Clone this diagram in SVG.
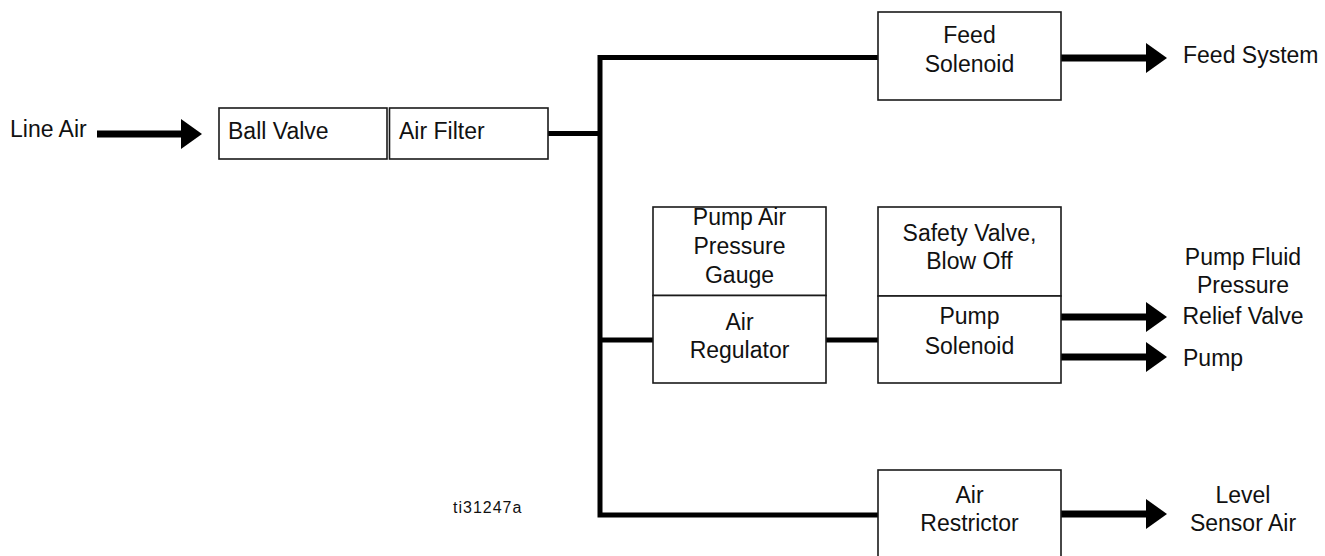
<svg xmlns="http://www.w3.org/2000/svg" width="1325" height="556" viewBox="0 0 1325 556">
<style>
.box{fill:#fff;stroke:#1a1a1a;stroke-width:1.6}
.t{font-family:"Liberation Sans",Arial,Helvetica,sans-serif;font-size:23px;fill:#111}
.c{text-anchor:middle}
.pipe{fill:none;stroke:#000;stroke-width:5;stroke-linejoin:miter;stroke-linecap:butt}
.shaft{fill:none;stroke:#000;stroke-width:7}
.small{font-family:"Liberation Sans",Arial,Helvetica,sans-serif;font-size:16px;letter-spacing:1px;fill:#111}
</style>
<defs>
<polygon id="head" points="0,-15 21,0 0,15" fill="#000"/>
</defs>
<rect width="1325" height="556" fill="#fff"/>
<g id="connectors">
<path class="pipe" d="M548 133.5 H600"/>
<path class="pipe" d="M878 57.5 H600 V515 H878"/>
<path class="pipe" d="M600 340 H653"/>
<path class="pipe" d="M826 340 H878"/>
<path class="shaft" d="M97 134 H184"/>
<use href="#head" x="181" y="134"/>
<path class="shaft" d="M1061 58 H1148"/>
<use href="#head" x="1146" y="58"/>
<path class="shaft" d="M1061 317 H1148"/>
<use href="#head" x="1146" y="317"/>
<path class="shaft" d="M1061 357 H1148"/>
<use href="#head" x="1146" y="357"/>
<path class="shaft" d="M1061 514 H1148"/>
<use href="#head" x="1146" y="514"/>
</g>
<g id="line-air"><text class="t" x="10" y="137">Line Air</text></g>
<g id="ball-valve"><rect class="box" x="219" y="108" width="168" height="51"/><text class="t" x="228" y="139">Ball Valve</text></g>
<g id="air-filter"><rect class="box" x="389.5" y="108" width="158.5" height="51"/><text class="t" x="399" y="139">Air Filter</text></g>
<g id="feed-solenoid"><rect class="box" x="878" y="12" width="183" height="88"/><text class="t c" x="969.5" y="43">Feed</text><text class="t c" x="969.5" y="72">Solenoid</text></g>
<g id="feed-system"><text class="t" x="1183" y="63">Feed System</text></g>
<g id="pump-air-pressure-gauge"><rect class="box" x="653" y="207" width="173" height="88.5"/><text class="t c" x="739.5" y="225">Pump Air</text><text class="t c" x="739.5" y="254">Pressure</text><text class="t c" x="739.5" y="283">Gauge</text></g>
<g id="air-regulator"><rect class="box" x="653" y="295.5" width="173" height="87.5"/><text class="t c" x="739.5" y="330">Air</text><text class="t c" x="739.5" y="358">Regulator</text></g>
<g id="safety-valve"><rect class="box" x="878" y="207" width="183" height="89"/><text class="t c" x="969.5" y="241">Safety Valve,</text><text class="t c" x="969.5" y="269">Blow Off</text></g>
<g id="pump-solenoid"><rect class="box" x="878" y="296" width="183" height="87"/><text class="t c" x="969.5" y="324">Pump</text><text class="t c" x="969.5" y="354">Solenoid</text></g>
<g id="relief-valve"><text class="t c" x="1243" y="265">Pump Fluid</text><text class="t c" x="1243" y="293">Pressure</text><text class="t c" x="1243" y="324">Relief Valve</text></g>
<g id="pump"><text class="t" x="1183" y="366">Pump</text></g>
<g id="air-restrictor"><rect class="box" x="878" y="470" width="183" height="90"/><text class="t c" x="969.5" y="503">Air</text><text class="t c" x="969.5" y="531">Restrictor</text></g>
<g id="level-sensor-air"><text class="t c" x="1243" y="503">Level</text><text class="t c" x="1243" y="531">Sensor Air</text></g>
<g id="figure-id"><text class="small" x="453" y="513">ti31247a</text></g>
</svg>
